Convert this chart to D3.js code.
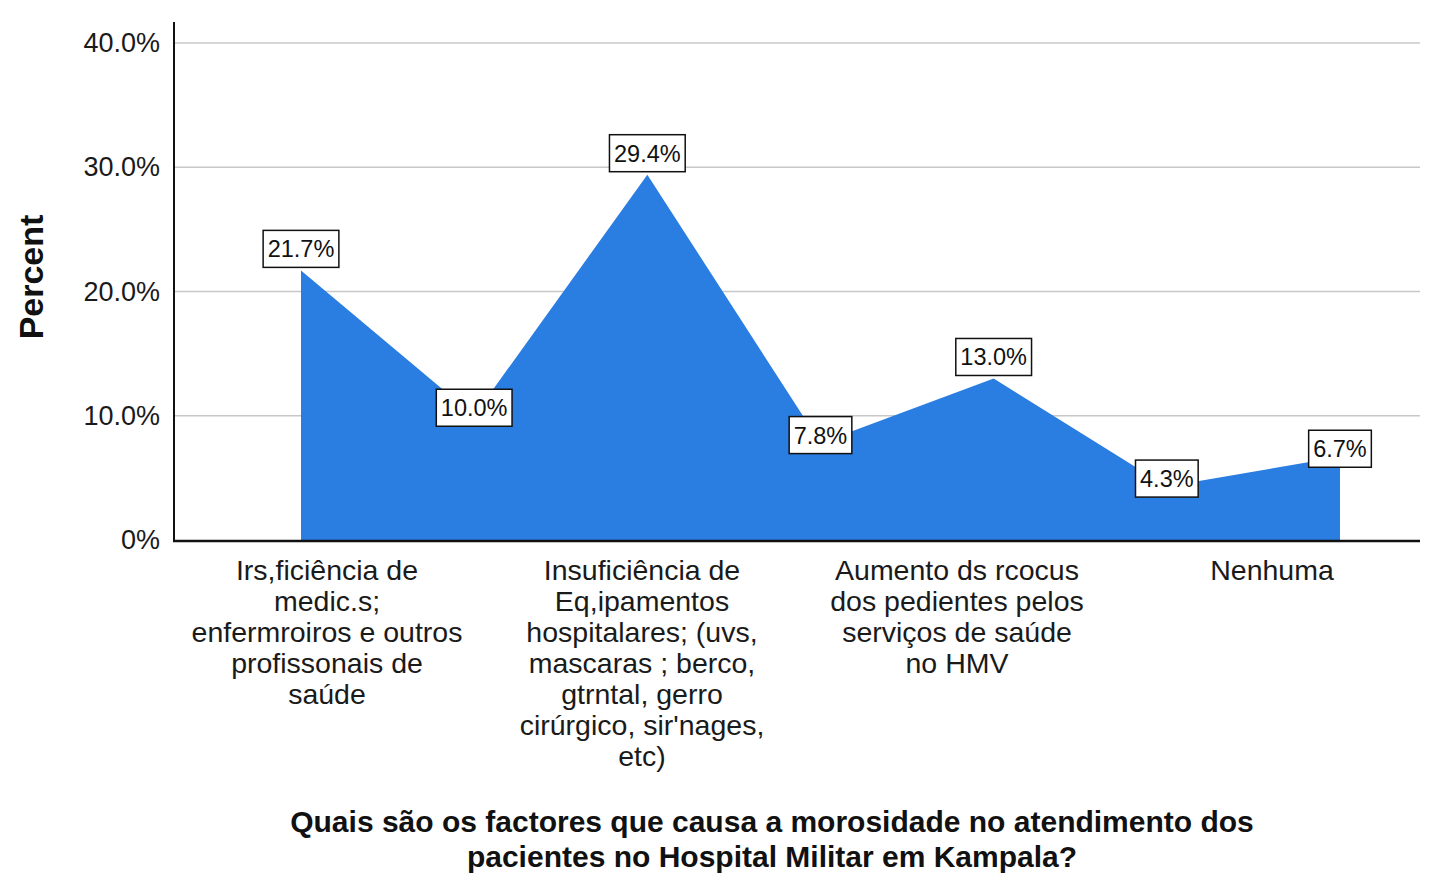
<!DOCTYPE html>
<html><head><meta charset="utf-8">
<script src="https://cdn.jsdelivr.net/npm/d3@7"></script>
<style>
html,body{margin:0;padding:0;background:#fff;}
svg{display:block;font-family:"Liberation Sans",Arial,sans-serif;}
</style></head>
<body>
<svg id="chart" width="1440" height="896"></svg>
<script>
const values = [21.7, 10.0, 29.4, 7.8, 13.0, 4.3, 6.7];
const pointIds = d3.range(values.length);
const categoryLabels = [
  ["Irs,ficiência de","medic.s;","enfermroiros e outros","profissonais de","saúde"],
  ["Insuficiência de","Eq,ipamentos","hospitalares; (uvs,","mascaras ; berco,","gtrntal, gerro","cirúrgico, sir\u02b9nages,","etc)"],
  ["Aumento ds rcocus","dos pedientes pelos","serviços de saúde","no HMV"],
  ["Nenhuma"]
];
const yTicks = [0, 10, 20, 30, 40];
const yTitle = "Percent";
const xTitle = ["Quais são os factores que causa a morosidade no atendimento dos","pacientes no Hospital Militar em Kampala?"];

const svg = d3.select("#chart");
const mLeft = 174, mRight = 1420, mTop = 22, mBottom = 540;

const x = d3.scalePoint().domain(pointIds).range([301, 1340]);
const xl = d3.scalePoint().domain(d3.range(categoryLabels.length)).range([327, 1272]);
const y = d3.scaleLinear().domain([0, 40]).range([mBottom, 43]);

// gridlines
svg.append("g").selectAll("line").data(yTicks.filter(t => t > 0)).join("line")
  .attr("x1", mLeft).attr("x2", mRight)
  .attr("y1", d => y(d)).attr("y2", d => y(d))
  .attr("stroke", "#c8c8c8").attr("stroke-width", 1.5);

// area
const area = d3.area().x((d, i) => x(i)).y0(y(0)).y1(d => y(d));
svg.append("path").datum(values).attr("d", area).attr("fill", "#2a7de1");

// axes
const yAxis = svg.append("g").attr("transform", `translate(${mLeft},0)`)
  .call(d3.axisLeft(y).tickValues(yTicks).tickSize(0).tickPadding(14)
    .tickFormat(d => d === 0 ? "0%" : d.toFixed(1) + "%"));
yAxis.select(".domain").remove();
yAxis.selectAll("text").attr("font-size", 27).attr("fill", "#1a1a1a")
  .attr("font-family", "Liberation Sans, Arial, sans-serif");

svg.append("line").attr("x1", mLeft).attr("x2", mLeft).attr("y1", mTop).attr("y2", mBottom + 1)
  .attr("stroke", "#111").attr("stroke-width", 2);
svg.append("line").attr("x1", mLeft - 1).attr("x2", mRight).attr("y1", mBottom + 1).attr("y2", mBottom + 1)
  .attr("stroke", "#111").attr("stroke-width", 2.5);

// category labels
const cat = svg.append("g").selectAll("text").data(categoryLabels).join("text")
  .attr("x", (d, i) => xl(i)).attr("y", 580)
  .attr("text-anchor", "middle").attr("font-size", 28.5).attr("fill", "#1a1a1a");
cat.each(function(lines, i) {
  d3.select(this).selectAll("tspan").data(lines).join("tspan")
    .attr("x", xl(i)).attr("dy", (d, j) => j === 0 ? 0 : 31).text(d => d);
});

// value labels
const labels = svg.append("g").selectAll("g").data(values).join("g");
labels.each(function(v, i) {
  const g = d3.select(this);
  const prev = i > 0 ? values[i - 1] : -Infinity;
  const next = i < values.length - 1 ? values[i + 1] : -Infinity;
  const peak = v > prev && v > next && i < values.length - 1;
  const t = g.append("text").attr("font-size", 23.5).attr("fill", "#111")
    .attr("text-anchor", "middle").text(v.toFixed(1) + "%");
  const bb = t.node().getBBox();
  const w = bb.width + 9, h = 37;
  const cx = x(i);
  const cy = peak ? y(v) - 3 - h / 2 : y(v) - 8;
  g.insert("rect", "text").attr("x", cx - w / 2).attr("y", cy - h / 2)
    .attr("width", w).attr("height", h)
    .attr("fill", "#fff").attr("stroke", "#111").attr("stroke-width", 1.5);
  t.attr("x", cx).attr("y", cy + 8.5);
});

// y title
svg.append("text").attr("transform", "translate(43,277) rotate(-90)")
  .attr("text-anchor", "middle").attr("font-size", 34).attr("font-weight", "bold")
  .attr("fill", "#111").text(yTitle);

// x title
svg.append("g").selectAll("text").data(xTitle).join("text")
  .attr("x", 772).attr("y", (d, i) => 832 + i * 35)
  .attr("text-anchor", "middle").attr("font-size", 30).attr("font-weight", "bold")
  .attr("fill", "#111").text(d => d);
</script>
</body></html>
